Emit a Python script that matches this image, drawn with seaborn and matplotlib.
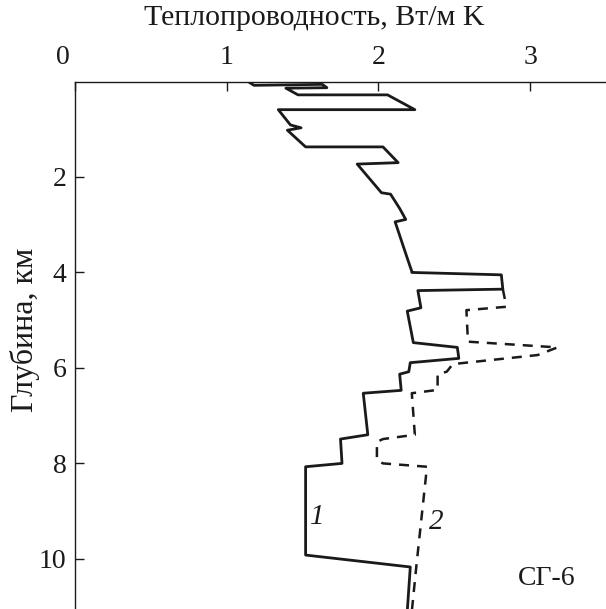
import matplotlib
matplotlib.use("Agg")
import matplotlib.pyplot as plt
import matplotlib.transforms as mtransforms
import seaborn as sns
import pandas as pd

# Curve 1 (solid): depth (km) and thermal conductivity (W/m K)
depth_1 = [0.00, 0.08, 0.06, 0.13, 0.14, 0.28, 0.28, 0.59, 0.59, 0.91, 0.97, 1.02,
           1.37, 1.37, 1.70, 1.73, 2.33, 2.36, 2.66, 2.89, 2.94, 3.70, 3.98, 4.00,
           4.05, 4.35, 4.38, 4.74, 4.81, 5.47, 5.57, 5.80, 5.89, 6.08, 6.13, 6.47,
           6.53, 7.40, 7.49, 8.00, 8.07, 9.92, 10.17, 11.10]
cond_1 = [1.14, 1.18, 1.63, 1.66, 1.39, 1.47, 2.06, 2.24, 1.34, 1.42, 1.49, 1.40,
          1.52, 2.03, 2.13, 1.86, 2.02, 2.08, 2.14, 2.18, 2.11, 2.19, 2.22, 2.22,
          2.81, 2.82, 2.26, 2.28, 2.19, 2.23, 2.52, 2.53, 2.21, 2.20, 2.14, 2.15,
          1.90, 1.93, 1.75, 1.76, 1.52, 1.52, 2.21, 2.19]

# Curve 2 (dashed)
depth_2 = [4.35, 4.66, 4.72, 4.79, 5.45, 5.57, 5.73, 5.92, 6.08, 6.13, 6.46, 6.53,
           7.40, 7.49, 7.55, 7.93, 8.00, 8.07, 10.15, 11.10]
cond_2 = [2.82, 2.84, 2.84, 2.58, 2.59, 3.18, 3.05, 2.49, 2.45, 2.39, 2.39, 2.22,
          2.24, 2.03, 1.99, 1.99, 2.03, 2.32, 2.25, 2.22]

x_ticks = [0, 1, 2, 3]
y_ticks = [2, 4, 6, 8, 10]

sns.set_theme(style="white")
plt.rcParams['font.family'] = ['Liberation Serif', 'DejaVu Serif']

df1 = pd.DataFrame({"depth": depth_1, "k": cond_1})
df2 = pd.DataFrame({"depth": depth_2, "k": cond_2})

fig = plt.figure(figsize=(6.06, 6.09), dpi=100)
ax = fig.add_axes([75/606, 0.0, 1 - 75/606, 1 - 81.5/609])

sns.lineplot(data=df1, x="k", y="depth", sort=False, estimator=None,
             color="#1a1a1a", linewidth=2.0, ax=ax)
sns.lineplot(data=df2, x="k", y="depth", sort=False, estimator=None,
             color="#1a1a1a", linewidth=1.8, linestyle=(0, (4.0, 3.2)), ax=ax)

ax.set_xlim(0, 3.5)
ax.set_ylim(11.05, 0)
ax.xaxis.tick_top()
ax.xaxis.set_label_position("top")
ax.set_xticks(x_ticks)
ax.set_yticks(y_ticks)
ax.set_xticklabels([str(v) for v in x_ticks])
ax.set_yticklabels([str(v) for v in y_ticks])
ax.tick_params(axis="both", direction="in", length=6.5, width=1.0, color="#1a1a1a",
               labelsize=20, labelcolor="#1a1a1a", pad=6)
ax.tick_params(axis="x", top=True, bottom=False, pad=8)
ax.tick_params(axis="y", left=True, right=False)
ax.set_xlabel("Теплопроводность, Вт/м K", fontsize=21.5, color="#1a1a1a")
ax.xaxis.set_label_coords((314 - 75) / 531, 1 + (81.5 - 18) / 527.5)
ax.xaxis.label.set_va("center")
ax.set_ylabel("Глубина, км", fontsize=23, color="#1a1a1a")
ax.yaxis.set_label_coords(-(75 - 25) / 531, (609 - 330) / 527.5)
ax.yaxis.label.set_va("center")

for side in ["right", "bottom"]:
    ax.spines[side].set_visible(False)
for side in ["top", "left"]:
    ax.spines[side].set_color("#1a1a1a")
    ax.spines[side].set_linewidth(1.0)

# shift the "0" label slightly left as in the reference
lbl0 = ax.get_xticklabels()[0]
lbl0.set_transform(lbl0.get_transform() +
                   mtransforms.ScaledTranslation(-12/100, 0, fig.dpi_scale_trans))

ax.text(1.60, 9.12, "1", fontsize=21, style="italic", ha="center", va="center", color="#1a1a1a")
ax.text(2.38, 9.22, "2", fontsize=21, style="italic", ha="center", va="center", color="#1a1a1a")
ax.text(3.11, 10.42, "СГ-6", fontsize=20, ha="center", va="center", color="#1a1a1a")

fig.savefig("out.png", dpi=100)
